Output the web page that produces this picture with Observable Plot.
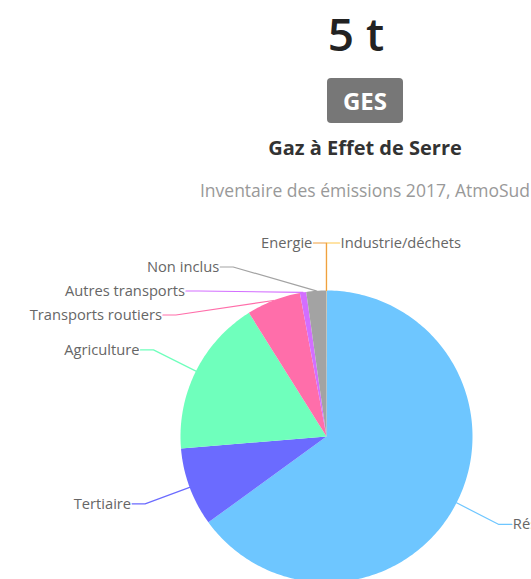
<!DOCTYPE html>
<html>
<head>
<meta charset="utf-8">
<script src="https://cdn.jsdelivr.net/npm/d3@7"></script>
<script src="https://cdn.jsdelivr.net/npm/@observablehq/plot@0.6"></script>
<style>
  html, body { margin: 0; padding: 0; background: #fff; overflow: hidden; }
  body { width: 531px; height: 579px; position: relative; font-family: "Open Sans", sans-serif; }
  .hdr { position: absolute; left: 0; width: 730px; text-align: center; white-space: nowrap; }
  #big { top: 2px; font-size: 46px; font-weight: 600; color: #222; left: -9px; line-height: 62px; }
  #badge-wrap { top: 78px; }
  #badge { display: inline-block; background: #777; color: #fff; font-weight: 700; font-size: 24px; width: 76px; height: 45px; line-height: 45px; border-radius: 4px; }
  #sub { top: 134px; font-size: 20px; line-height: 28px; font-weight: 700; color: #333; }
  #src { top: 177px; font-size: 17.5px; line-height: 26px; color: #999; }
  #chart { position: absolute; left: 0; top: 200px; }
</style>
</head>
<body>
<div class="hdr" id="big">5 t</div>
<div class="hdr" id="badge-wrap"><span id="badge">GES</span></div>
<div class="hdr" id="sub">Gaz à Effet de Serre</div>
<div class="hdr" id="src">Inventaire des émissions 2017, AtmoSud</div>
<div id="chart"></div>
<script>
// Data (share of emissions, %), in drawing order clockwise from 12 o'clock
const categories = ["Industrie/déchets", "Résidentiel", "Tertiaire", "Agriculture", "Transports routiers", "Autres transports", "Non inclus", "Energie"];
const values = [0.02, 65.0, 8.7, 17.4, 6.0, 0.7, 2.2, 0.02];
const colors = ["#ffc84d", "#6ec6ff", "#6b6bff", "#6fffbc", "#ff6eaa", "#d36eff", "#a3a3a3", "#f0a040"];

// Layout constants
const R_PX = 146;                  // pie radius in px
const LABEL_R = 193.5 / R_PX;      // label radius in pie units
const SPACING = 24 / R_PX;         // min label spacing
const ELBOW = 13 / R_PX;           // horizontal connector length

const total = d3.sum(values);
let acc = 0;
const slices = categories.map((key, i) => {
  const a0 = acc / total * 2 * Math.PI;
  acc += values[i];
  const a1 = acc / total * 2 * Math.PI;
  return {key, a0, a1, mid: (a0 + a1) / 2};
});

// Slice polygons (geometry of each wedge)
const arcPts = [];
for (const s of slices) {
  arcPts.push({key: s.key, x: 0, y: 0});
  const n = Math.max(2, Math.ceil((s.a1 - s.a0) / (Math.PI / 180)));
  for (let k = 0; k <= n; k++) {
    const a = s.a0 + (s.a1 - s.a0) * k / n;
    arcPts.push({key: s.key, x: Math.sin(a), y: Math.cos(a)});
  }
}

// Label placement
const labels = slices.map(s => ({
  key: s.key,
  side: (s.mid > Math.PI) ? -1 : 1,
  ly: LABEL_R * Math.cos(s.mid),
  ex: Math.sin(s.mid), ey: Math.cos(s.mid)
}));
for (const side of [-1, 1]) {
  const grp = labels.filter(l => l.side === side).sort((a, b) => b.ly - a.ly);
  for (let i = 1; i < grp.length; i++) grp[i].ly = Math.min(grp[i].ly, grp[i - 1].ly - SPACING);
}
for (const l of labels) {
  l.lx = l.side * Math.sqrt(Math.max(0, LABEL_R * LABEL_R - l.ly * l.ly));
  l.tx = l.lx + l.side * ELBOW;
}
const connPts = [];
for (const l of labels) {
  connPts.push({key: l.key, x: l.tx, y: l.ly});
  connPts.push({key: l.key, x: l.lx, y: l.ly});
  connPts.push({key: l.key, x: l.ex, y: l.ey});
}

const plot = Plot.plot({
  width: 531,
  height: 379,
  margin: 0,
  style: {background: "transparent", fontFamily: "'Open Sans', sans-serif", overflow: "visible"},
  x: {domain: [-1, 1], range: [180, 472], axis: null},
  y: {domain: [-1, 1], range: [382, 90], axis: null},
  color: {domain: categories, range: colors},
  marks: [
    Plot.line(arcPts, {x: "x", y: "y", z: "key", fill: "key", stroke: "none", curve: "linear-closed"}),
    Plot.line(connPts, {x: "x", y: "y", z: "key", stroke: "key", strokeWidth: 1.2}),
    Plot.text(labels.filter(l => l.side < 0), {x: "tx", y: "ly", text: "key", textAnchor: "end", dx: -1, fill: "#666", fontSize: 14.7}),
    Plot.text(labels.filter(l => l.side > 0), {x: "tx", y: "ly", text: "key", textAnchor: "start", dx: 1, fill: "#666", fontSize: 14.7})
  ]
});
document.getElementById("chart").appendChild(plot);
</script>
</body>
</html>
